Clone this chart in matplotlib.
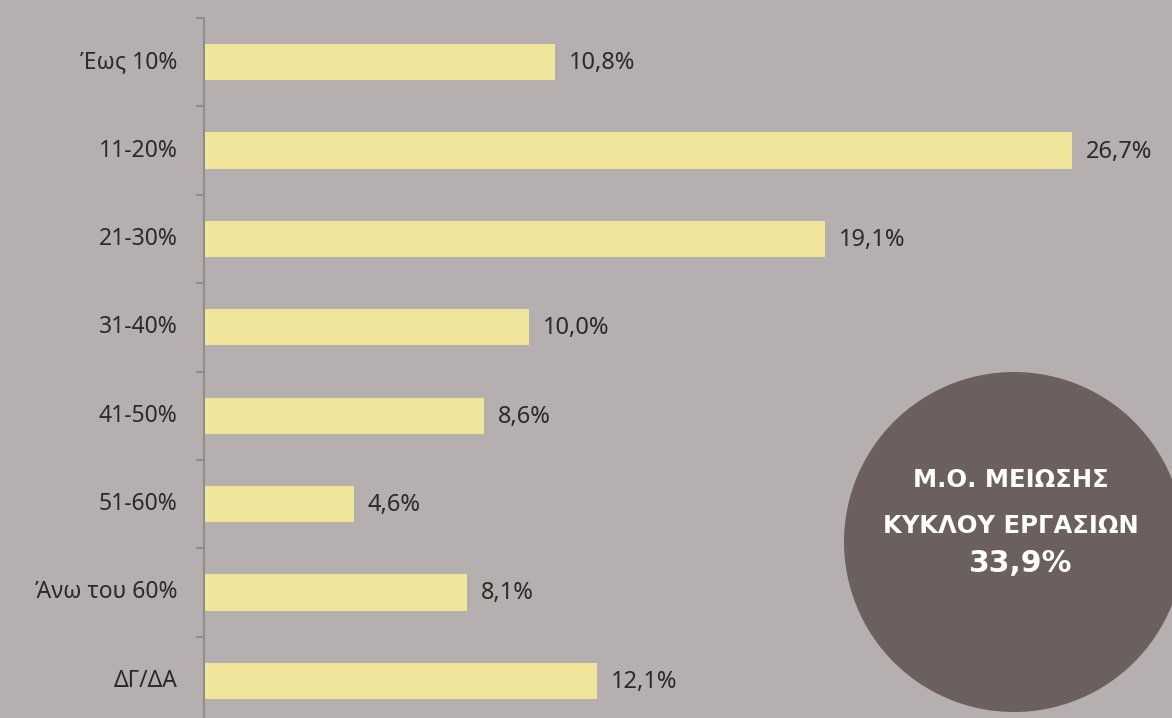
import matplotlib
matplotlib.use("Agg")
import matplotlib.pyplot as plt
from matplotlib.patches import Circle
from matplotlib.transforms import IdentityTransform
import numpy as np

categories = ["Έως 10%", "11-20%", "21-30%", "31-40%", "41-50%", "51-60%", "Άνω του 60%", "ΔΓ/ΔΑ"]
values = [10.8, 26.7, 19.1, 10.0, 8.6, 4.6, 8.1, 12.1]
value_labels = ["10,8%", "26,7%", "19,1%", "10,0%", "8,6%", "4,6%", "8,1%", "12,1%"]
circle_lines = ["Μ.Ο. ΜΕΙΩΣΗΣ", "ΚΥΚΛΟΥ ΕΡΓΑΣΙΩΝ"]
circle_value = "33,9%"

W, H, DPI = 1172, 718, 100
bg = "#b5afaf"
bar_color = "#efe69b"
text_color = "#2a2a2a"
spine_color = "#8e8e8e"
circle_color = "#6b605d"

plt.rcParams['font.family'] = ['Noto Sans', 'DejaVu Sans']

fig = plt.figure(figsize=(W / DPI, H / DPI), dpi=DPI, facecolor=bg)
left_px, top_px, bottom_px = 204, 18, 725
ax = fig.add_axes([left_px / W, 1 - bottom_px / H, 1 - left_px / W, (bottom_px - top_px) / H])
ax.set_facecolor(bg)
ax.patch.set_alpha(0)

n = len(categories)
y = np.arange(n)
ax.barh(y, values, height=0.41, color=bar_color, zorder=2)
px_per_unit = 32.5
ax.set_xlim(0, (W - left_px) / px_per_unit)
ax.set_ylim(n - 0.5, -0.5)

for yi, v, lab in zip(y, values, value_labels):
    ax.annotate(lab, (v, yi), xytext=(14, -1), textcoords="offset pixels",
                va="center", ha="left", fontsize=17, color=text_color)

ax.set_yticks(y)
ax.set_yticklabels(categories, fontsize=16.5, color=text_color)
for t in ax.get_yticklabels():
    t.set_va("center")
ax.set_yticks(np.arange(n + 1) - 0.5, minor=True)
ax.tick_params(axis="y", which="major", length=0, pad=19)
ax.tick_params(axis="y", which="minor", length=6, width=1.5, color=spine_color, direction="out")
ax.set_xticks([])
for s in ["top", "right", "bottom"]:
    ax.spines[s].set_visible(False)
ax.spines["left"].set_color(spine_color)
ax.spines["left"].set_linewidth(1.5)

cx, cy, r = 1014, H - 542, 170
circ = Circle((cx, cy), r, transform=IdentityTransform(), facecolor=circle_color, edgecolor="none", zorder=5)
fig.add_artist(circ)
bold = ['DejaVu Sans']
fig.text(1011 / W, 1 - 480 / H, circle_lines[0], ha="center", va="center", color="white",
         fontsize=17.5, fontweight="bold", family=bold, zorder=6)
fig.text(1011 / W, 1 - 526 / H, circle_lines[1], ha="center", va="center", color="white",
         fontsize=17.5, fontweight="bold", family=bold, zorder=6)
fig.text(1020 / W, 1 - 563 / H, circle_value, ha="center", va="center", color="white",
         fontsize=21.5, fontweight="bold", family=bold, zorder=6)

fig.savefig("out.png", dpi=DPI, facecolor=bg)
